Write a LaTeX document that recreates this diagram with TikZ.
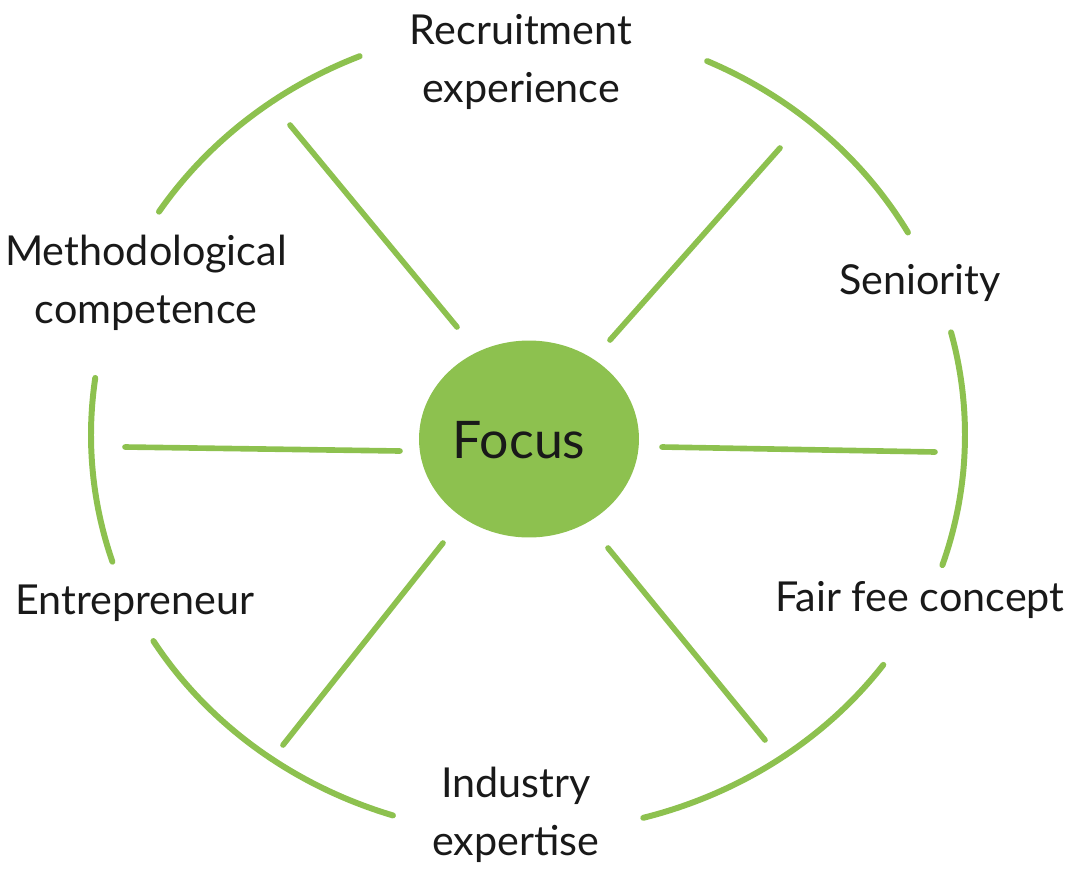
\documentclass[tikz,border=0pt]{standalone}
\usepackage{fontspec}
\setmainfont{Lato}
\usetikzlibrary{shapes.geometric}
\definecolor{lgreen}{RGB}{141,193,79}
\tikzset{
  spoke/.style={draw=lgreen, line width=3.2pt, line cap=round},
  rim/.style={draw=lgreen, line width=3.4pt, line cap=round},
  lbl/.style={font=\fontsize{23.5}{33}\selectfont, align=center, text=black!90, inner sep=0pt},
}
\begin{document}
\begin{tikzpicture}[x=0.02cm, y=-0.02cm]
\useasboundingbox (0,0) rectangle (1083,890);
% centre
\node[ellipse, fill=lgreen, inner sep=0pt,
      minimum width=4.4cm, minimum height=3.94cm] (focus) at (529,439) {};
\node[lbl, font=\fontsize{29.5}{34}\selectfont] (focustxt) at (519,440) {Focus};
% spokes
\coordinate (ul1) at (290,125); \coordinate (ul2) at (457,327);
\coordinate (ur1) at (780,148); \coordinate (ur2) at (610,340);
\coordinate (l1) at (125,447);  \coordinate (l2) at (400,451);
\coordinate (r1) at (662,447);  \coordinate (r2) at (935,452);
\coordinate (ll1) at (443,543); \coordinate (ll2) at (283,745);
\coordinate (lr1) at (608,548); \coordinate (lr2) at (765,740);
\draw[spoke] (ul1) -- (ul2);
\draw[spoke] (ur1) -- (ur2);
\draw[spoke] (l1) -- (l2);
\draw[spoke] (r1) -- (r2);
\draw[spoke] (ll1) -- (ll2);
\draw[spoke] (lr1) -- (lr2);
% rim arcs
\draw[rim] plot[domain=213:247.5, samples=40, smooth] ({528+440*cos(\x)},{435+410*sin(\x)});
\draw[rim] plot[domain=294.2:330.4, samples=40, smooth] ({528+437*cos(\x)},{435+410*sin(\x)});
\draw[rim] plot[domain=-14.5:18.5, samples=40, smooth] ({528+437*cos(\x)},{435+410*sin(\x)});
\draw[rim] plot[domain=162:188, samples=40, smooth] ({528+437*cos(\x)},{435+410*sin(\x)});
\draw[rim] plot[domain=108:149, samples=40, smooth] ({528+437*cos(\x)},{435+400*sin(\x)});
\draw[rim] plot[domain=35.6:74.7, samples=40, smooth] ({528+437*cos(\x)},{432+400*sin(\x)});
% labels
\node[lbl] (recr) at (521,62) {Recruitment\\experience};
\node[lbl] (sen) at (920,283) {Seniority};
\node[lbl] (meth) at (146,283) {Methodological\\competence};
\node[lbl] (entr) at (135,603) {Entrepreneur};
\node[lbl] (fair) at (920,600) {Fair fee concept};
\node[lbl] (ind) at (516,815) {Industry\\expertise};
\end{tikzpicture}
\end{document}
